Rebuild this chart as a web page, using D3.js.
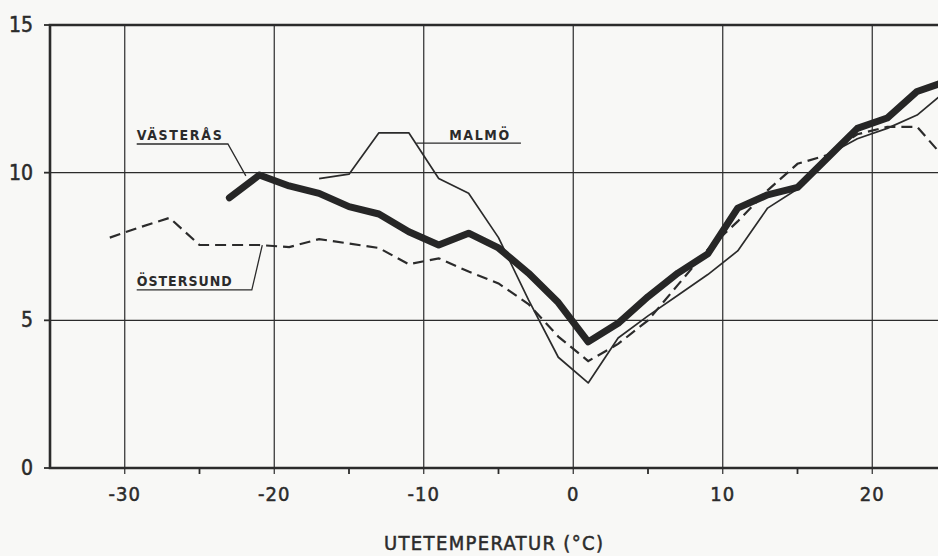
<!DOCTYPE html>
<html>
<head>
<meta charset="utf-8">
<script src="https://cdn.jsdelivr.net/npm/d3@7"></script>
<style>
  body { margin: 0; background: #f8f8f6; }
  svg { display: block; }
  text { font-family: "DejaVu Sans Condensed", "DejaVu Sans", sans-serif; fill: #2b2b2b; }
  .tick-label { stroke: #2b2b2b; stroke-width: 0.5px; }
</style>
</head>
<body>
<div class="container"></div>
<script>
var w = 938;
var h = 556;

// outdoor temperature steps (°C)
var temps = [-31, -29, -27, -25, -23, -21, -19, -17, -15, -13, -11, -9, -7, -5, -3, -1,
  1, 3, 5, 7, 9, 11, 13, 15, 17, 19, 21, 23, 25];

var vasteras = [null, null, null, null, 9.15, 9.92, 9.55, 9.3, 8.85, 8.6, 8.0, 7.55, 7.95, 7.45, 6.6, 5.6,
  4.27, 4.9, 5.8, 6.6, 7.25, 8.8, 9.25, 9.5, 10.5, 11.5, 11.85, 12.75, 13.1];

var malmo = [null, null, null, null, null, null, null, 9.8, 9.95, 11.35, 11.35, 9.8, 9.3, 7.8, 5.7, 3.75,
  2.88, 4.4, 5.15, 5.85, 6.55, 7.35, 8.8, 9.45, 10.6, 11.15, 11.5, 11.95, 12.8];

var ostersund = [7.8, 8.15, 8.47, 7.55, 7.55, 7.55, 7.48, 7.75, 7.6, 7.45, 6.9, 7.1, 6.65, 6.25, 5.55, 4.45,
  3.62, 4.2, 5.0, 6.2, 7.4, 8.35, 9.4, 10.3, 10.6, 11.3, 11.55, 11.55, 10.4];

var xMajor = [-30, -20, -10, 0, 10, 20];
var xMinor = [-25, -15, -5, 5, 15];
var yTicks = [0, 5, 10, 15];

// name labels: text anchor, underline end, leader end (data units)
var labels = [
  { name: "VÄSTERÅS", x: -29.2, y: 11.1, len: 85, uy: 10.97, ux2: -23.1, lx: -21.9, ly: 9.89 },
  { name: "MALMÖ", x: -8.3, y: 11.1, len: 60, uy: 11.0, ux1: -10.5, ux2: -3.5 },
  { name: "ÖSTERSUND", x: -29.2, y: 6.17, len: 95, uy: 6.03, ux2: -21.5, lx: -20.8, ly: 7.55 }
];

var svg = d3.select(".container")
  .append("svg")
  .attr("width", w)
  .attr("height", h);

svg.append("rect")
  .attr("width", w)
  .attr("height", h)
  .attr("fill", "#f8f8f6");

var xScale = d3.scaleLinear().domain([-35, 25]).range([50, 947]);
var yScale = d3.scaleLinear().domain([0, 15]).range([468, 25]);

var ink = "#2b2b2b";

// grid
svg.append("g")
  .selectAll("line")
  .data(xMajor)
  .enter()
  .append("line")
  .attr("x1", d => xScale(d))
  .attr("x2", d => xScale(d))
  .attr("y1", yScale(15))
  .attr("y2", yScale(0) + 6)
  .attr("stroke", ink)
  .attr("stroke-width", 1.2);

svg.append("g")
  .selectAll("line")
  .data([5, 10])
  .enter()
  .append("line")
  .attr("x1", xScale(-35))
  .attr("x2", w)
  .attr("y1", d => yScale(d))
  .attr("y2", d => yScale(d))
  .attr("stroke", ink)
  .attr("stroke-width", 1.2);

// minor ticks below the x axis
svg.append("g")
  .selectAll("line")
  .data(xMinor)
  .enter()
  .append("line")
  .attr("x1", d => xScale(d))
  .attr("x2", d => xScale(d))
  .attr("y1", yScale(0))
  .attr("y2", yScale(0) + 6)
  .attr("stroke", ink)
  .attr("stroke-width", 1.8);

// y ticks
svg.append("g")
  .selectAll("line")
  .data(yTicks)
  .enter()
  .append("line")
  .attr("x1", xScale(-35) - 6)
  .attr("x2", xScale(-35))
  .attr("y1", d => yScale(d))
  .attr("y2", d => yScale(d))
  .attr("stroke", ink)
  .attr("stroke-width", 1.8);

// frame: left, bottom, top
svg.append("path")
  .attr("d", `M${w},${yScale(15)}H${xScale(-35)}V${yScale(0)}H${w}`)
  .attr("fill", "none")
  .attr("stroke", ink)
  .attr("stroke-width", 2.6);

// tick labels
svg.append("g")
  .selectAll("text")
  .data(xMajor)
  .enter()
  .append("text")
  .attr("class", "tick-label")
  .attr("x", d => xScale(d))
  .attr("y", 501)
  .attr("text-anchor", "middle")
  .attr("font-size", 20)
  .style("letter-spacing", "1px")
  .text(d => d === 0 ? "0" : (d < 0 ? "-" + Math.abs(d) : d));

svg.append("g")
  .selectAll("text")
  .data(yTicks)
  .enter()
  .append("text")
  .attr("class", "tick-label")
  .attr("x", 33)
  .attr("y", d => yScale(d) + 7)
  .attr("text-anchor", "end")
  .attr("font-size", 21)
  .text(d => d);

svg.append("text")
  .attr("class", "tick-label")
  .attr("x", 384)
  .attr("y", 550)
  .attr("font-size", 20)
  .attr("textLength", 219)
  .attr("lengthAdjust", "spacing")
  .text("UTETEMPERATUR (°C)");

// series
function seriesPoints(vals) {
  return temps.map((t, i) => [t, vals[i]]).filter(d => d[1] !== null);
}

var line = d3.line()
  .x(d => xScale(d[0]))
  .y(d => yScale(d[1]));

svg.append("path")
  .datum(seriesPoints(ostersund))
  .attr("d", line)
  .attr("fill", "none")
  .attr("stroke", ink)
  .attr("stroke-width", 2.2)
  .attr("stroke-dasharray", "11,6");

svg.append("path")
  .datum(seriesPoints(malmo))
  .attr("d", line)
  .attr("fill", "none")
  .attr("stroke", ink)
  .attr("stroke-width", 1.7)
  .attr("stroke-linejoin", "round");

svg.append("path")
  .datum(seriesPoints(vasteras))
  .attr("d", line)
  .attr("fill", "none")
  .attr("stroke", "#262626")
  .attr("stroke-width", 7)
  .attr("stroke-linejoin", "round")
  .attr("stroke-linecap", "round");

// name labels with underline and leader
var lab = svg.append("g");
labels.forEach(function (d) {
  lab.append("text")
    .attr("x", xScale(d.x))
    .attr("y", yScale(d.y))
    .attr("font-size", 14)
    .attr("font-weight", "bold")
    .attr("textLength", d.len)
    .attr("lengthAdjust", "spacing")
    .text(d.name);
  var pts = [[d.ux1 !== undefined ? d.ux1 : d.x, d.uy], [d.ux2, d.uy]];
  if (d.lx !== undefined) pts.push([d.lx, d.ly]);
  lab.append("path")
    .datum(pts)
    .attr("d", line)
    .attr("fill", "none")
    .attr("stroke", ink)
    .attr("stroke-width", 1.3);
});
</script>
</body>
</html>
